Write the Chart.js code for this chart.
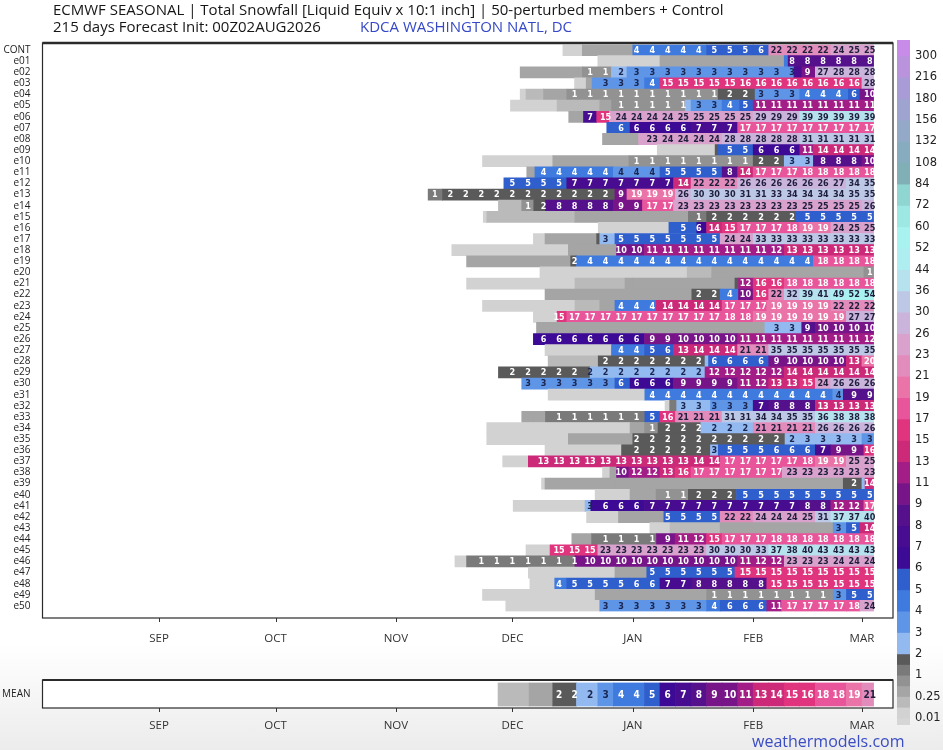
<!DOCTYPE html>
<html lang="en">
<head>
  <meta charset="UTF-8" />
  <title>ECMWF Seasonal Snowfall - KDCA</title>
  <script src="https://cdn.jsdelivr.net/npm/chart.js"></script>
  <style>
    body {
      margin: 0;
      width: 943px;
      height: 750px;
      position: relative;
      overflow: hidden;
      background: linear-gradient(#ffffff 0, #ffffff 86%, #ececec 100%);
      font-family: "Open Sans", "Liberation Sans", sans-serif;
    }

    canvas {
      position: absolute;
    }

    #mainChart { left: 0; top: 0; }
    #meanChart { left: 0; top: 670px; }
    #scaleChart { left: 893px; top: 0; }

    .title {
      position: absolute;
      font-size: 15px;
      font-weight: 500;
      line-height: 19px;
      color: #161616;
      white-space: nowrap;
      z-index: 2;
    }

    #t1 { left: 53px; top: 0; }
    #t2 { left: 53px; top: 17px; }
    #t3 { left: 360px; top: 17px; color: #3548c8; }

    .brand {
      position: absolute;
      left: 752px;
      top: 730px;
      font-size: 16px;
      line-height: 22px;
      color: #3a4cc4;
    }
  </style>
</head>
<body>
  <div class="title" id="t1">ECMWF SEASONAL | Total Snowfall [Liquid Equiv x 10:1 inch] | 50-perturbed members + Control</div>
  <div class="title" id="t2">215 days Forecast Init: 00Z02AUG2026</div>
  <div class="title" id="t3">KDCA WASHINGTON NATL, DC</div>

  <canvas id="mainChart" width="895" height="650"></canvas>
  <canvas id="meanChart" width="895" height="66"></canvas>
  <canvas id="scaleChart" width="50" height="740"></canvas>

  <div class="brand">weathermodels.com</div>

  <script>
    // days counted from 02 Aug (day 0); each row is a list of [start day, snowfall]
    const END_DAY = 214;
    const MONTH_DAYS = [30, 60, 91, 121, 152, 183, 211];
    const MONTH_NAMES = ["SEP", "OCT", "NOV", "DEC", "JAN", "FEB", "MAR"];

    const ROW_NAMES = ["CONT",
      "e01", "e02", "e03", "e04", "e05", "e06", "e07", "e08", "e09", "e10",
      "e11", "e12", "e13", "e14", "e15", "e16", "e17", "e18", "e19", "e20",
      "e21", "e22", "e23", "e24", "e25", "e26", "e27", "e28", "e29", "e30",
      "e31", "e32", "e33", "e34", "e35", "e36", "e37", "e38", "e39", "e40",
      "e41", "e42", "e43", "e44", "e45", "e46", "e47", "e48", "e49", "e50"];

    const CONT = [[134,0.05],[139,0.4],[152,4.2],[171,5.2],[183,5.6],[187,22.2],[203,24.2],[207,25.2]];
    const E01 = [[143,0.05],[159,0.4],[191,4.5],[192,8.3]];
    const E02 = [[123,0.45],[139,0.8],[146.5,2.2],[150.5,3.2],[193.5,7.5],[195.5,9.3],[199,27.3],[203,28.3]];
    const E03 = [[137,0.05],[140,0.3],[141.5,3.2],[155,4.2],[159,15.2],[179,16.2],[211,28.2]];
    const E04 = [[123,0.05],[124.5,0.2],[129,0.4],[135,0.9],[174,1.7],[183.5,3.2],[195,4.2],[207.5,5.8],[210.5,9.7]];
    const E05 = [[120.5,0.05],[132.5,0.2],[143.5,0.4],[146.5,0.8],[165.5,2.3],[167,3.2],[175,4.2],[179.5,5.2],[183,11.2]];
    const E06 = [[135.5,0.4],[139.3,7.2],[142.7,15.3],[146,24.2],[163,25.2],[183,29.2],[195,39.2]];
    const E07 = [[145.3,5.6],[151.3,6.3],[167,7.2],[179,17.2]];
    const E08 = [[144.2,0.4],[153.5,23.2],[159,24.2],[175,28.2],[195,31.2]];
    const E09 = [[158.3,0.05],[173.2,1.8],[174,5.2],[183,6.2],[195,11.2],[198.5,14.2]];
    const E10 = [[113.3,0.05],[131.4,0.4],[151,0.9],[183,1.8],[191,2.6],[198.5,8.2],[211,9.8]];
    const E11 = [[124.7,0.3],[126.8,4.2],[147,3.8],[159,5.2],[175,8.2],[179,14.2],[183,17.2],[195,18.2]];
    const E12 = [[118.8,5.2],[135,7.2],[162.5,14.2],[167,22.2],[179,26.2],[203,27.2],[207,34.2],[211,35.2]];
    const E13 = [[99.3,1.4],[103,1.8],[147.4,9.3],[150.5,19.3],[163,26.2],[167,30.2],[179,31.2],[187,33.2],[191,34.2],[207,35.2]];
    const E14 = [[117.4,0.1],[123.4,0.7],[126.5,1.7],[129.5,8.2],[147,9.2],[154.5,17.2],[162.5,23.2],[195,25.2],[211,26.2]];
    const E15 = [[113.5,0.05],[114.4,0.2],[137.1,0.4],[166.3,1.2],[171,1.8],[194,5.2]];
    const E16 = [[143.1,0.05],[161.3,5.3],[168.5,6.2],[171,14.2],[175,15.3],[179,17.2],[191,18.2],[195,19.2],[203,24.2],[207,25.2]];
    const E17 = [[126.4,0.05],[129.4,0.3],[142.7,1.7],[143.5,2.8],[147.4,5.2],[174.5,24.2],[183,33.2]];
    const E18 = [[105.4,0.05],[135.4,0.4],[147.8,10.2],[155,11.2],[187,12.2],[191,13.2]];
    const E19 = [[109.2,0.4],[136,1.8],[137.5,4.2],[198.5,18.2]];
    const E20 = [[128.1,0.05],[166,0.2],[172.3,0.4],[211.5,0.9]];
    const E21 = [[109.2,0.05],[137.1,0.2],[150,0.3],[152,0.4],[178.3,1.8],[179.2,12.2],[183,16.2],[191,18.2]];
    const E22 = [[129.4,0.4],[167.2,1.8],[174.5,4.2],[179.2,10.2],[183,16.2],[187,22.2],[191,32.2],[195,39.2],[199,41.2],[203,49.2],[207,52.2],[211,54.2]];
    const E23 = [[113.3,0.05],[137.1,0.2],[143.5,0.4],[147.4,4.2],[158,14.2],[175,17.2],[186.5,19.2],[203,22.2]];
    const E24 = [[126.4,0.05],[132.5,15.2],[135,17.2],[175,18.2],[183,19.2],[207,27.2]];
    const E25 = [[127.2,0.4],[186,2.8],[195.5,8.8],[199,10.2]];
    const E26 = [[126.4,6.2],[155,9.2],[163,10.2],[179,11.2],[211,12.2]];
    const E27 = [[129.4,0.05],[146.5,4.2],[155,5.2],[159,5.7],[162.5,13.2],[167,14.2],[179,21.2],[187,35.2]];
    const E28 = [[130.2,0.2],[143.1,1.8],[170.6,2.5],[171.5,5.7],[187,9.2],[191,10.2],[207,13.2],[211,20.2]];
    const E29 = [[117.4,1.8],[141,2.2],[170.6,12.2],[191,14.2]];
    const E30 = [[123.4,3.2],[147.4,5.7],[151.3,6.2],[162.4,9.2],[179,11.2],[183,12.2],[187,13.2],[195,15.2],[199,24.2],[203,26.2]];
    const E31 = [[130.2,0.05],[155.1,4.2],[203.5,3.8],[206.2,8.8]];
    const E32 = [[160.3,0.05],[161.5,1.2],[163.3,2.8],[172,3.2],[183,7.2],[187,8.2],[199,13.2]];
    const E33 = [[123.4,0.4],[126.5,0.45],[129.5,1.2],[155.1,5.2],[159,16.2],[163,21.2],[175,31.2],[183,34.2],[191,35.2],[199,36.2],[203,38.2]];
    const E34 = [[114.4,0.05],[151.3,0.4],[155,0.9],[158.5,1.8],[169.5,2.2],[183,21.2],[199,26.2]];
    const E35 = [[114.4,0.05],[135.4,0.4],[152,1.8],[191.2,2.3],[195,2.8],[211,3.2]];
    const E36 = [[129.4,0.05],[149.1,1.8],[172,2.8],[174,5.2],[187,5.7],[199,7.2],[203,9.2],[211.5,16.2]];
    const E37 = [[118.5,0.05],[125.1,13.2],[167,14.2],[174.5,17.2],[195,18.2],[199,19.2],[207,25.2]];
    const E38 = [[144.2,0.05],[146.1,0.4],[147.8,10.2],[151,12.2],[159,13.2],[163,16.2],[167,17.2],[190.5,23.2]];
    const E39 = [[128.5,0.05],[129.4,0.3],[147.4,0.4],[206.2,1.8],[211,2.5],[211.8,14.2]];
    const E40 = [[142.3,0.05],[151.3,0.4],[158,0.9],[166.3,1.8],[178.7,5.2]];
    const E41 = [[121.2,0.05],[139.7,2.8],[141.2,6.2],[155,7.2],[195,8.2],[203,12.2],[211.5,17.2]];
    const E42 = [[140.1,0.05],[148.3,0.4],[160,5.2],[174.5,22.2],[183,24.2],[195,25.2],[199,31.2],[203,37.2],[211,40.2]];
    const E43 = [[156.4,0.05],[161.6,0.15],[174.5,0.4],[203.6,3.2],[207,5.2],[210.5,14.2]];
    const E44 = [[136.3,0.4],[141.4,1.2],[158.1,9.2],[162.9,11.2],[167,12.2],[171,15.2],[175,17.2],[187,18.2]];
    const E45 = [[124.5,0.05],[130.7,15.2],[143,23.2],[171,30.2],[183,33.2],[187,37.2],[191,38.2],[195,40.2],[199,43.2]];
    const E46 = [[106.2,0.05],[109.2,1.2],[137.1,10.2],[179,11.2],[183,12.2],[191,23.2],[203,24.2]];
    const E47 = [[125.1,0.05],[147.4,0.4],[155.6,5.2],[178.3,15.2]];
    const E48 = [[125.5,0.05],[131.9,4.2],[135,5.2],[151,5.6],[159,7.2],[167.2,8.2],[186.5,15.2]];
    const E49 = [[113.3,0.05],[142.3,0.4],[171,0.9],[203.6,3.2],[207,5.2]];
    const E50 = [[119.3,0.05],[143.5,3.2],[171,4.2],[174.5,5.7],[186.5,11.2],[190.3,17.2],[207,18.2],[210.5,24.2]];

    const MEAN = [[117.3,0.2],[125.3,0.45],[131.4,1.8],[137.5,2.2],[143,3.2],[147,4.2],[155,5.2],[159,6.2],[163,7.2],
      [167,8.2],[171,9.2],[175,10.2],[179,11.2],[183,13.2],[187,14.2],[191,15.2],[195,16.2],[199,18.2],[207,19.2],[211,21.2]];

    const MEMBERS = [CONT, E01, E02, E03, E04, E05, E06, E07, E08, E09, E10,
      E11, E12, E13, E14, E15, E16, E17, E18, E19, E20,
      E21, E22, E23, E24, E25, E26, E27, E28, E29, E30,
      E31, E32, E33, E34, E35, E36, E37, E38, E39, E40,
      E41, E42, E43, E44, E45, E46, E47, E48, E49, E50];

    // colour levels (inches) and the labels shown on the colour bar
    const LEVELS = [0.01, 0.1, 0.25, 0.5, 1, 1.5, 2, 3, 4, 5, 6, 7, 8, 9, 11, 13, 15, 17, 19, 21, 23,
      26, 30, 36, 44, 52, 60, 72, 84, 108, 132, 156, 180, 216, 300];
    const COLORS = ["#d2d2d2", "#bababa", "#a5a5a5", "#929292", "#7a7a7a", "#5a5a5a",
      "#93baf0", "#5f95e6", "#3f7ade", "#2f5fcc", "#3c0a94", "#470c90", "#55108c", "#761488",
      "#a21e86", "#cc2a78", "#e0357e", "#e8559a", "#ea74a8", "#e28cbc", "#d8a2cc", "#cab4dc",
      "#bdc8e6", "#b6e2ee", "#aeeef0", "#a8f2f0", "#9ee8e4", "#8fd6d0", "#80b0b6", "#88acbf",
      "#94a8c8", "#9ea3d0", "#a99cd6", "#b994dd"];
    const TOP_COLOR = "#c88ce8";
    const CB_LABELS = [0.01, 0.25, 1, 2, 3, 4, 5, 6, 7, 8, 9, 11, 13, 15, 17, 19, 21, 23, 26, 30,
      36, 44, 52, 60, 72, 84, 108, 132, 156, 180, 216, 300];

    const AXIS_FONT = '"Open Sans", "Liberation Sans", sans-serif';
    const CELL_FONT = 'bold 9px "DejaVu Sans Condensed", "DejaVu Sans", sans-serif';

    // label positions every 4 days, ending at the last day
    const LABEL_DAYS = [];
    for (let d = 213; d >= 97; d -= 4) LABEL_DAYS.push(d);

    function colorFor(v) {
      if (v >= 300) return TOP_COLOR;
      for (let k = LEVELS.length - 2; k >= 0; k--) {
        if (v >= LEVELS[k]) return COLORS[k];
      }
      return "rgba(0,0,0,0)";
    }

    function textColor(v) {
      if (v < 2) return "#ffffff";
      if (v < 4) return "#1a2550";
      if (v < 21) return "#ffffff";
      return "#1e1e3c";
    }

    function valueAt(segs, d) {
      if (d < segs[0][0] || d > END_DAY) return null;
      let v = null;
      segs.forEach(s => { if (s[0] <= d) v = s[1]; });
      return v;
    }

    function toBars(rows, names) {
      const bars = [];
      rows.forEach((segs, r) => {
        segs.forEach((s, i) => {
          const end = i + 1 < segs.length ? segs[i + 1][0] : END_DAY;
          bars.push({ y: names[r], x: [s[0], end], v: s[1] });
        });
      });
      return bars;
    }

    function labelPlugin(rows, font) {
      return {
        id: "cellLabels",
        afterDatasetsDraw(chart) {
          const { ctx, chartArea, scales } = chart;
          ctx.save();
          ctx.beginPath();
          ctx.rect(chartArea.left, chartArea.top, chartArea.width, chartArea.height);
          ctx.clip();
          ctx.font = font;
          ctx.textAlign = "center";
          ctx.textBaseline = "middle";
          rows.forEach((segs, r) => {
            LABEL_DAYS.forEach(d => {
              const v = valueAt(segs, d);
              if (v === null || Math.round(v) < 1) return;
              ctx.fillStyle = textColor(v);
              ctx.fillText(String(Math.round(v)), scales.x.getPixelForValue(d), scales.y.getPixelForValue(r) + 0.5);
            });
          });
          ctx.restore();
        }
      };
    }

    function framePlugin(padTop, padBottom, topWidth) {
      return {
        id: "frame",
        beforeDatasetsDraw(chart) {
          const a = chart.chartArea;
          chart.ctx.save();
          chart.ctx.fillStyle = "#ffffff";
          chart.ctx.fillRect(a.left, a.top - padTop, a.width, a.height + padTop + padBottom);
          chart.ctx.restore();
        },
        afterDraw(chart) {
          const { ctx, chartArea: a, scales } = chart;
          const top = a.top - padTop, bottom = a.bottom + padBottom;
          ctx.save();
          ctx.strokeStyle = "#2a2a2a";
          ctx.lineWidth = 1.2;
          ctx.strokeRect(a.left, top, a.width, bottom - top);
          ctx.lineWidth = topWidth;
          ctx.beginPath();
          ctx.moveTo(a.left, top);
          ctx.lineTo(a.right, top);
          ctx.stroke();
          ctx.lineWidth = 1;
          ctx.strokeStyle = "#333333";
          MONTH_DAYS.forEach(d => {
            const px = Math.round(scales.x.getPixelForValue(d)) + 0.5;
            ctx.beginPath();
            ctx.moveTo(px, bottom);
            ctx.lineTo(px, bottom + 4);
            ctx.stroke();
          });
          ctx.restore();
        }
      };
    }

    function timeAxis(padding, height) {
      return {
        type: "linear",
        min: 0,
        max: 219,
        afterBuildTicks: scale => { scale.ticks = MONTH_DAYS.map(v => ({ value: v })); },
        afterFit: scale => { scale.height = height; },
        ticks: {
          padding: padding,
          color: "#333333",
          font: { family: AXIS_FONT, size: 11.5 },
          maxRotation: 0,
          callback: v => MONTH_NAMES[MONTH_DAYS.indexOf(v)]
        },
        grid: { display: false },
        border: { display: false }
      };
    }

    function rowAxis() {
      return {
        type: "category",
        afterFit: scale => { scale.width = 42.5; },
        ticks: {
          autoSkip: false,
          padding: 4,
          color: "#222222",
          font: { family: AXIS_FONT, size: 10 }
        },
        grid: { display: false },
        border: { display: false }
      };
    }

    function renderMain() {
      new Chart(document.getElementById("mainChart"), {
        type: "bar",
        data: {
          labels: ROW_NAMES,
          datasets: [{
            data: toBars(MEMBERS, ROW_NAMES),
            backgroundColor: c => colorFor(c.raw.v),
            borderWidth: 0,
            barPercentage: 1,
            categoryPercentage: 1
          }]
        },
        options: {
          indexAxis: "y",
          responsive: false,
          animation: false,
          events: [],
          layout: { padding: { top: 44.5, right: 2, left: 0, bottom: 0 } },
          scales: { x: timeAxis(12, 38.5), y: rowAxis() },
          plugins: { legend: { display: false }, tooltip: { enabled: false } }
        },
        plugins: [framePlugin(1.5, 6.5, 2.5), labelPlugin(MEMBERS, CELL_FONT)]
      });
    }

    function renderMean() {
      new Chart(document.getElementById("meanChart"), {
        type: "bar",
        data: {
          labels: ["MEAN"],
          datasets: [{
            data: toBars([MEAN], ["MEAN"]),
            backgroundColor: c => colorFor(c.raw.v),
            borderWidth: 0,
            barPercentage: 1,
            categoryPercentage: 1
          }]
        },
        options: {
          indexAxis: "y",
          responsive: false,
          animation: false,
          events: [],
          layout: { padding: { top: 12.5, right: 2, left: 0, bottom: 0 } },
          scales: { x: timeAxis(4, 29.5), y: rowAxis() },
          plugins: { legend: { display: false }, tooltip: { enabled: false } }
        },
        plugins: [framePlugin(2.5, 1.5, 2), labelPlugin([MEAN], 'bold 10px "DejaVu Sans Condensed", "DejaVu Sans", sans-serif')]
      });
    }

    function cbPos(level) {
      const i = CB_LABELS.indexOf(level);
      if (i >= 0) return i;
      return CB_LABELS.findIndex(l => l > level) - 0.5;
    }

    function renderScale() {
      const bands = [{ lo: -0.33, hi: 0, c: "#d6d6d6" }];
      LEVELS.slice(0, -1).forEach((lv, k) => {
        bands.push({ lo: cbPos(lv), hi: cbPos(LEVELS[k + 1]), c: COLORS[k] });
      });
      bands.push({ lo: CB_LABELS.length - 1, hi: CB_LABELS.length - 0.25, c: TOP_COLOR });

      new Chart(document.getElementById("scaleChart"), {
        type: "bar",
        data: {
          labels: ["cb"],
          datasets: [{
            data: bands.map(b => ({ x: "cb", y: [b.lo, b.hi] })),
            backgroundColor: bands.map(b => b.c),
            borderWidth: 0,
            barPercentage: 1,
            categoryPercentage: 1
          }]
        },
        options: {
          responsive: false,
          animation: false,
          events: [],
          layout: { padding: { top: 40, bottom: 15, left: 4, right: 0 } },
          scales: {
            x: { display: false },
            y: {
              position: "right",
              min: -0.33,
              max: CB_LABELS.length - 0.25,
              afterBuildTicks: scale => { scale.ticks = CB_LABELS.map((l, i) => ({ value: i })); },
              afterFit: scale => { scale.width = 33; },
              ticks: {
                padding: 5,
                color: "#222222",
                font: { family: '"DejaVu Sans", sans-serif', size: 11.5 },
                callback: (v, i) => String(CB_LABELS[i])
              },
              grid: { display: false, drawTicks: false, tickLength: 0 },
              border: { display: false }
            }
          },
          plugins: { legend: { display: false }, tooltip: { enabled: false } }
        }
      });
    }

    renderMain();
    renderMean();
    renderScale();
  </script>
</body>
</html>
